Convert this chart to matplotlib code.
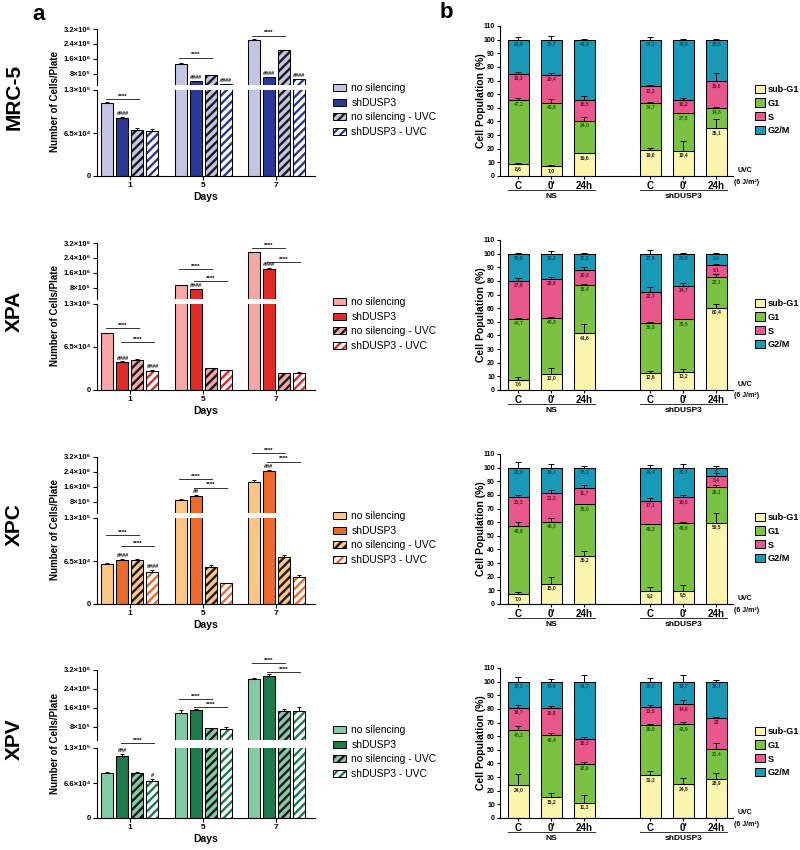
import numpy as np
import matplotlib.pyplot as plt
from matplotlib.patches import Patch
from matplotlib.transforms import blended_transform_factory

plt.rcParams['font.family'] = ['Liberation Sans', 'DejaVu Sans']
plt.rcParams['font.weight'] = 'bold'
plt.rcParams['hatch.linewidth'] = 1.7
plt.rcParams['axes.linewidth'] = 0.8

# ---------------- panel a : cell growth ----------------
days = ['1', '5', '7']
conds_a = ['no silencing', 'shDUSP3', 'no silencing - UVC', 'shDUSP3 - UVC']
cell_lines = ['MRC-5', 'XPA', 'XPC', 'XPV']

# rows = day, cols = condition
mrc5_cells = np.array([[1.11e5, 8.8e4, 7.0e4, 6.8e4],
                       [1.32e6, 3.9e5, 7.3e5, 2.3e5],
                       [2.61e6, 6.0e5, 2.05e6, 5.0e5]])
mrc5_err = np.array([[1.5e3, 1.0e3, 2.5e3, 2.5e3],
                     [4e4, 2e4, 1e4, 1e4],
                     [3e4, 2e4, 3e4, 1e4]])
xpa_cells = np.array([[8.55e4, 4.2e4, 4.5e4, 2.9e4],
                      [9.2e5, 7.1e5, 3.3e4, 3.0e4],
                      [2.7e6, 1.78e6, 2.5e4, 2.6e4]])
xpa_err = np.array([[1e3, 1.5e3, 1.5e3, 1e3],
                    [1.5e4, 1e4, 1e3, 5e2],
                    [3e4, 8e4, 5e2, 5e2]])
xpc_cells = np.array([[6.1e4, 6.7e4, 6.7e4, 4.9e4],
                      [9.1e5, 1.12e6, 5.6e4, 3.1e4],
                      [1.87e6, 2.45e6, 7.1e4, 4.1e4]])
xpc_err = np.array([[1e3, 1e3, 1.5e3, 3e3],
                    [1e4, 6e4, 2.5e3, 1e3],
                    [7e4, 5e4, 3e3, 2.5e3]])
xpv_cells = np.array([[8.4e4, 1.147e5, 8.3e4, 6.9e4],
                      [1.39e6, 1.5e6, 7.3e5, 7.0e5],
                      [2.82e6, 2.96e6, 1.45e6, 1.48e6]])
xpv_err = np.array([[1e3, 5e3, 3e3, 4e3],
                    [1e5, 5e4, 2e4, 8e4],
                    [5e4, 5e4, 1e5, 1.4e5]])

# significance lines: (day, bar from, bar to, height)
mrc5_stars = [(0, 0, 2, 1.164e5), (1, 0, 2, 1.66e6), (2, 0, 2, 2.84e6)]
xpa_stars = [(0, 0, 2, 9.37e4), (0, 1, 3, 7.26e4), (1, 0, 2, 1.81e6),
             (1, 1, 3, 1.17e6), (2, 0, 2, 2.93e6), (2, 1, 3, 2.19e6)]
xpc_stars = [(0, 0, 2, 1.04e5), (0, 1, 3, 8.7e4), (1, 0, 2, 2.03e6),
             (1, 1, 3, 1.55e6), (2, 0, 2, 3.43e6), (2, 1, 3, 2.95e6)]
xpv_stars = [(0, 1, 3, 1.387e5), (1, 0, 2, 1.97e6), (1, 1, 3, 1.62e6),
             (2, 0, 2, 3.48e6), (2, 1, 3, 3.1e6)]

mrc5_hash = {(0, 1): '####', (1, 1): '####', (1, 3): '####', (2, 1): '####', (2, 3): '####'}
xpa_hash = {(0, 1): '####', (0, 3): '####', (1, 1): '####', (2, 1): '####'}
xpc_hash = {(0, 1): '####', (0, 3): '####', (1, 1): '##', (2, 1): '###'}
xpv_hash = {(0, 1): '###', (0, 3): '#'}

# ---------------- panel b : cell cycle ----------------
conditions_b = ['C', "0'", '24h', 'C', "0'", '24h']
groups_b = ['NS', 'shDUSP3']
phases = ['sub-G1', 'G1', 'S', 'G2/M']

# rows = phase (sub-G1, G1, S, G2/M), cols = condition
mrc5_cycle = [[8.6, 7.0, 16.6, 19.0, 18.4, 35.1],
              [47.2, 46.9, 24.0, 34.7, 27.5, 14.8],
              [19.3, 20.4, 15.5, 12.2, 10.2, 19.6],
              [24.9, 25.7, 43.9, 34.1, 43.9, 30.5]]
mrc5_cycle_err = [[1.0, 0.8, 0.5, 1.2, 7.0, 7.0],
                  [1.5, 2.5, 2.5, 0.5, 0.5, 0.5],
                  [1.5, 1.0, 2.5, 1.0, 1.0, 6.0],
                  [2.0, 2.5, 0.5, 2.0, 0.5, 0.5]]
xpa_cycle = [[7.6, 12.0, 41.6, 12.6, 13.2, 60.4],
             [44.7, 40.8, 35.4, 36.8, 38.5, 22.1],
             [27.9, 28.9, 10.8, 22.7, 24.7, 9.1],
             [19.8, 18.3, 12.2, 27.9, 23.6, 8.4]]
xpa_cycle_err = [[2.0, 4.0, 7.0, 1.0, 2.5, 3.0],
                 [0.5, 0.8, 1.0, 0.5, 0.5, 2.5],
                 [2.0, 1.0, 2.5, 3.5, 2.0, 1.0],
                 [0.5, 2.0, 0.5, 3.0, 0.5, 0.5]]
xpc_cycle = [[7.0, 15.0, 35.2, 9.2, 9.5, 59.5],
             [49.9, 45.3, 38.0, 49.3, 49.8, 26.1],
             [21.3, 21.0, 11.7, 17.1, 19.0, 8.4],
             [21.8, 18.7, 15.1, 24.4, 21.7, 6]]
xpc_cycle_err = [[1.5, 5.0, 4.0, 3.0, 4.5, 7.0],
                 [3.0, 2.5, 0.5, 0.5, 0.5, 2.0],
                 [2.0, 2.5, 2.5, 2.0, 2.0, 2.0],
                 [4.0, 2.5, 1.5, 2.0, 3.0, 1.0]]
xpv_cycle = [[24.0, 15.2, 11.3, 31.3, 24.8, 28.9],
             [40.2, 45.4, 28.6, 36.9, 43.9, 21.4],
             [16.7, 19.8, 18.3, 13.5, 14.6, 23],
             [19.1, 19.6, 41.7, 18.3, 16.7, 26.7]]
xpv_cycle_err = [[8.0, 3.0, 5.5, 3.0, 4.5, 4.0],
                 [3.0, 2.0, 1.0, 1.0, 2.0, 4.5],
                 [2.0, 2.0, 1.0, 1.0, 3.0, 1.0],
                 [3.5, 2.0, 5.0, 3.0, 5.0, 1.0]]

W, H = 800, 850
fig = plt.figure(figsize=(W / 100, H / 100), dpi=100)
row_off = [0, 214, 428, 642]


def box(x0, y0, x1, y1):
    # axes from a pixel box, y measured from the top
    return fig.add_axes([x0 / W, 1 - y1 / H, (x1 - x0) / W, (y1 - y0) / H])


def ftext(x, y, s, **kw):
    fig.text(x / W, 1 - y / H, s, **kw)


pitch, bw = 0.205, 0.164


def growth(row, cells, err, light, dark, stars, hashes, mid_label, tall_top=False):
    off = row_off[row]
    if tall_top:
        ax_up = box(97, 28 + off, 315, 98 + off)
        ax_lo = box(97, 106 + off, 315, 176 + off)
        up_lo = 2.36e5
    else:
        ax_up = box(97, 29 + off, 315, 85 + off)
        ax_lo = box(97, 90 + off, 315, 176 + off)
        up_lo = 1.9e5
    faces = [light, dark, light, 'white']
    hcols = [None, None, '#1a1a1a', dark]
    for ax in (ax_up, ax_lo):
        for k in range(4):
            xs = np.arange(3) + (k - 1.5) * pitch
            if hcols[k] is None:
                ax.bar(xs, cells[:, k], bw, color=faces[k], edgecolor='black', linewidth=0.75, zorder=2)
            else:
                ax.bar(xs, cells[:, k], bw, color=faces[k], edgecolor=hcols[k], hatch='////',
                       linewidth=0, zorder=2)
                ax.bar(xs, cells[:, k], bw, fill=False, edgecolor='black', linewidth=0.75, zorder=3)
            ax.errorbar(xs, cells[:, k], yerr=[np.zeros(3), err[:, k]], fmt='none', ecolor='black',
                        elinewidth=0.7, capsize=1.6, capthick=0.7, zorder=4)
        ax.set_xlim(-0.45, 2.53)
        ax.spines[['top', 'right']].set_visible(False)
        ax.tick_params(axis='y', direction='out', length=3, width=0.8, labelsize=5.5, pad=1.5)
    ax_up.set_ylim(up_lo, 3.2e6)
    ax_up.spines['bottom'].set_visible(False)
    ax_up.set_xticks([])
    ax_up.set_yticks([8e5, 1.6e6, 2.4e6, 3.2e6], ['8×10⁵', '1.6×10⁶', '2.4×10⁶', '3.2×10⁶'])
    ax_lo.set_ylim(0, 1.3e5)
    ax_lo.set_yticks([0, 6.5e4, 1.3e5], ['0', mid_label, '1.3×10⁵'])
    ax_lo.set_xticks(range(3), days)
    ax_lo.tick_params(axis='x', length=3, width=0.8, labelsize=6, pad=1.5)

    for d, i, j, y in stars:
        ax = ax_up if y > up_lo else ax_lo
        x0 = d + (i - 1.5) * pitch - 0.02
        x1 = d + (j - 1.5) * pitch + 0.02
        ax.plot([x0, x1], [y, y], color='#333333', lw=0.7, clip_on=False)
        ax.annotate('****', ((x0 + x1) / 2, y), xytext=(0, 0.2), textcoords='offset points',
                    ha='center', va='bottom', fontsize=4.5, annotation_clip=False)
    for (d, k), s in hashes.items():
        v = cells[d, k] + err[d, k]
        ax = ax_up if v > up_lo else ax_lo
        ax.annotate(s, (d + (k - 1.5) * pitch, v), xytext=(0, 0.5), textcoords='offset points',
                    ha='center', va='bottom', fontsize=4, style='italic', annotation_clip=False)

    handles = [Patch(facecolor=light, edgecolor='black', lw=0.7),
               Patch(facecolor=dark, edgecolor='black', lw=0.7),
               (Patch(facecolor=light, edgecolor='#1a1a1a', hatch='////', lw=0),
                Patch(fill=False, edgecolor='black', lw=0.7)),
               (Patch(facecolor='white', edgecolor=dark, hatch='////', lw=0),
                Patch(fill=False, edgecolor='black', lw=0.7))]
    fig.legend(handles, conds_a, loc='center left', bbox_to_anchor=(326 / W, 1 - (110 + off) / H),
               frameon=False, prop={'size': 7.4, 'weight': 'normal'}, handlelength=1.26,
               handleheight=0.68, handletextpad=0.5, labelspacing=0.45, borderpad=0.2)

    ftext(14, 97 + off, cell_lines[row], rotation=90, fontsize=15, ha='center', va='center')
    ftext(55, 102 + off, 'Number of Cells/Plate', rotation=90, fontsize=7, ha='center', va='center')
    ftext(206, 197 + off, 'Days', fontsize=7.5, ha='center', va='center')


xpos_b = [0, 1, 2, 4, 5, 6]
phase_colors = ['#fbf5ad', '#7cc242', '#e9588c', '#1999b8']
phase_text = ['#222222', '#1e5c12', '#6e0f33', '#0a4767']


def cycle(row, fractions, errs):
    off = row_off[row]
    ax = box(500, 26 + off, 733, 176 + off)
    bottom = np.zeros(6)
    for p in range(4):
        vals = np.array(fractions[p], dtype=float)
        ax.bar(xpos_b, vals, 0.65, bottom=bottom, color=phase_colors[p], edgecolor='black',
               linewidth=0.75, zorder=2)
        top = bottom + vals
        ax.errorbar(xpos_b, top, yerr=[np.zeros(6), errs[p]], fmt='none', ecolor='black',
                    elinewidth=0.7, capsize=2.2, capthick=0.7, zorder=3)
        for x, t, v in zip(xpos_b, top, fractions[p]):
            s = f'{v:.1f}'.replace('.', ',') if isinstance(v, float) else str(v)
            ax.text(x, t - 3, s, ha='center', va='center', fontsize=3.6, color=phase_text[p], zorder=4)
        bottom = top
    ax.set_xlim(-0.56, 6.5)
    ax.set_ylim(0, 110)
    ax.set_yticks(range(0, 111, 10))
    ax.set_xticks(xpos_b, conditions_b)
    ax.spines[['top', 'right']].set_visible(False)
    ax.tick_params(axis='y', length=2.5, width=0.8, labelsize=5, pad=1.2)
    ax.tick_params(axis='x', length=2, width=0.8, labelsize=7, pad=1.5)
    tr = blended_transform_factory(ax.transData, ax.transAxes)
    for (lo, hi), lab in zip([(0, 2), (4, 6)], groups_b):
        ax.plot([lo - 0.33, hi + 0.33], [-0.093, -0.093], transform=tr, color='#333333', lw=0.7,
                clip_on=False)
        ax.text((lo + hi) / 2, -0.14, lab, transform=tr, ha='center', va='center', fontsize=6)
    ftext(745, 170 + off, 'UVC', fontsize=5, ha='center', va='center')
    ftext(747, 182 + off, '(6 J/m²)', fontsize=5, ha='center', va='center')
    ftext(481, 101 + off, 'Cell Population (%)', rotation=90, fontsize=7.5, ha='center', va='center')
    handles = [Patch(facecolor=c, edgecolor='black', lw=0.7) for c in phase_colors]
    fig.legend(handles, phases, loc='center left', bbox_to_anchor=(749 / W, 1 - (110 + off) / H),
               frameon=False, prop={'size': 6.6, 'weight': 'bold'}, handlelength=1.0,
               handleheight=1.0, handletextpad=0.35, labelspacing=0.5, borderpad=0.2)


growth(0, mrc5_cells, mrc5_err, '#c4c4e4', '#2b3896', mrc5_stars, mrc5_hash, '6.5×10⁴')
growth(1, xpa_cells, xpa_err, '#f4a7a4', '#e12a26', xpa_stars, xpa_hash, '6.5×10⁴')
growth(2, xpc_cells, xpc_err, '#fbc585', '#ec6a2c', xpc_stars, xpc_hash, '6.5×10⁴')
growth(3, xpv_cells, xpv_err, '#82cba4', '#1c7a4b', xpv_stars, xpv_hash, '6.6×10⁴', tall_top=True)

cycle(0, mrc5_cycle, mrc5_cycle_err)
cycle(1, xpa_cycle, xpa_cycle_err)
cycle(2, xpc_cycle, xpc_cycle_err)
cycle(3, xpv_cycle, xpv_cycle_err)

ftext(39, 14, 'a', fontsize=16, ha='center', va='center')
ftext(446, 13, 'b', fontsize=16, ha='center', va='center')

fig.savefig('out.png', dpi=100)
